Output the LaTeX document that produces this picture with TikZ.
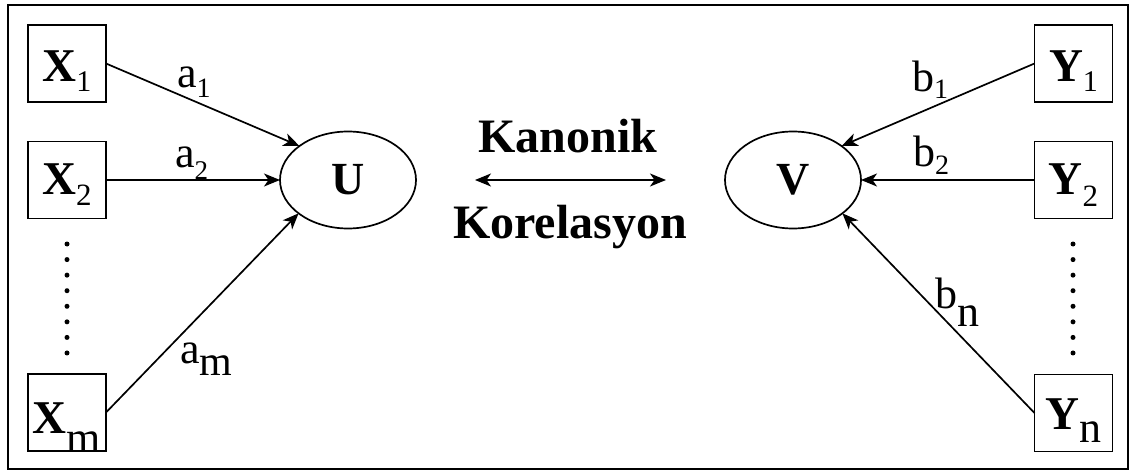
\documentclass[tikz,border=0pt]{standalone}
\usepackage{fontspec}
\setmainfont{Liberation Serif}
\usetikzlibrary{arrows.meta,shapes.geometric}
\newcommand{\lowsub}[3]{\raisebox{-#2pt}{\fontsize{#1}{#1}\selectfont #3}}
\begin{document}
\begin{tikzpicture}[x=1pt,y=-1pt,
  boxnode/.style={draw,line width=1.7pt,minimum width=78pt,minimum height=77pt,inner sep=0pt,outer sep=0pt,font=\fontsize{47}{47}\selectfont,text depth=0pt},
  latent/.style={draw,ellipse,line width=1.7pt,minimum width=136pt,minimum height=97pt,inner sep=0pt,outer sep=0pt,font=\fontsize{46}{46}\selectfont\bfseries},
  tip/.style={},
  conn/.style={line width=1.7pt,-{Stealth[length=16pt,width=13pt,inset=4.5pt]}},
  wt/.style={anchor=base west,inner sep=0pt,font=\fontsize{44}{44}\selectfont},
  title/.style={anchor=base,inner sep=0pt,font=\fontsize{48}{48}\selectfont\bfseries},
  dotcol/.style={line width=5pt,line cap=round,dash pattern=on 0pt off 15.57pt}
]
\useasboundingbox (0,0) rectangle (1132,473);
\draw[line width=2.6pt] (8,5) rectangle (1128,469);

% observed variables
\node[boxnode,text height=37pt] (X1) at (67,63.5) {\textbf{X}\lowsub{30}{10}{1}};
\node[boxnode,text height=30pt] (X2) at (67,180) {\textbf{X}\lowsub{31}{11}{2}};
\node[boxnode,text height=41pt] (Xm) at (67,412.5) {\textbf{X}\lowsub{44}{19}{m}};
\node[boxnode,text height=37pt] (Y1) at (1073.5,63.5) {\textbf{Y}\lowsub{30}{10}{1}};
\node[boxnode,text height=30pt] (Y2) at (1073.5,180) {\textbf{Y}\lowsub{31}{12}{2}};
\node[boxnode,text height=32pt] (Yn) at (1073.5,413) {\textbf{Y}\lowsub{44}{13}{n}};

% latent variables
\node[latent] (U) at (348,180) {U};
\node[latent] (V) at (793,180) {V};

% dots
\draw[dotcol] (67,244) -- (67,353.5);
\draw[dotcol] (1073,244) -- (1073,353.5);

% connectors
\draw[conn] (X1.east) -- (U.145);
\draw[conn] (X2.east) -- (U.west);
\draw[conn] (Xm.east) -- (U.214);
\draw[conn] (Y1.west) -- (V.35);
\draw[conn] (Y2.west) -- (V.east);
\draw[conn] (Yn.west) -- (V.326);

% weights
\node[wt] (la1) at (177,88) {a\lowsub{28}{10}{1}};
\node[wt] (la2) at (175,168) {a\lowsub{27}{12}{2}};
\node[wt] (lam) at (180,363) {a\lowsub{42}{12}{m}};
\node[wt] (lb1) at (912,92) {b\lowsub{28}{7}{1}};
\node[wt] (lb2) at (913,167) {b\lowsub{28}{8}{2}};
\node[wt] (lbn) at (935,308) {b\lowsub{44}{18}{n}};

% canonical correlation
\coordinate (ka) at (475,180);
\coordinate (kb) at (666,180);
\draw[line width=1.7pt,{Stealth[length=16pt,width=13pt,inset=4.5pt]}-{Stealth[length=16pt,width=13pt,inset=4.5pt]}] (ka) -- (kb);
\node[title] (kan) at (568,153) {Kanonik};
\node[title] (kor) at (570,238) {Korelasyon};
\end{tikzpicture}
\end{document}
